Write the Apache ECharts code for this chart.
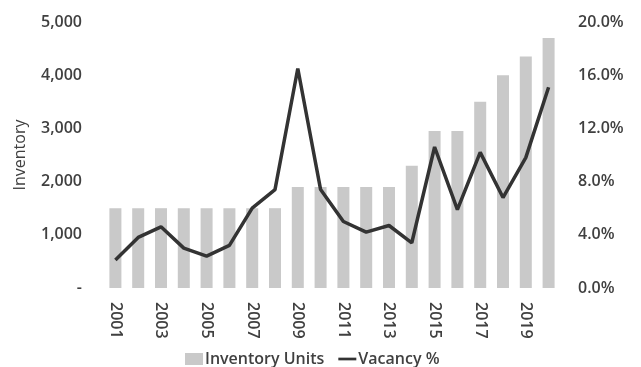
<!DOCTYPE html>
<html>
<head>
<meta charset="utf-8">
<script src="https://cdn.jsdelivr.net/npm/echarts@6/dist/echarts.min.js"></script>
<style>
  html, body { margin: 0; padding: 0; background: #fff; }
  #chart { width: 641px; height: 367px; }
</style>
</head>
<body>
<div id="chart"></div>
<script>
// Years on the category axis
const years = ['2001','2002','2003','2004','2005','2006','2007','2008','2009','2010',
               '2011','2012','2013','2014','2015','2016','2017','2018','2019','2020'];
// Inventory units per year
const inventory = [1500,1500,1500,1500,1500,1500,1500,1500,1900,1900,
                   1900,1900,1900,2300,2950,2950,3500,4000,4350,4700];
// Vacancy rate per year (%)
const vacancy = [2.1,3.8,4.6,3.0,2.4,3.2,6.0,7.4,16.5,7.4,
                 5.0,4.2,4.7,3.4,10.6,5.9,10.2,6.8,9.8,15.1];

const textColor = '#404040';
const font = '"Open Sans", "Noto Sans", sans-serif';

const chart = echarts.init(document.getElementById('chart'));
chart.setOption({
  animation: false,
  textStyle: { fontFamily: font, color: textColor },
  grid: { left: 104, right: 81, top: 22, bottom: 79 },
  legend: {
    top: 346,
    left: 180,
    itemGap: 14,
    itemWidth: 18,
    itemHeight: 12,
    textStyle: { fontFamily: font, fontSize: 16, color: textColor, fontWeight: 600, padding: [0, 0, 0, -3] },
    data: [
      { name: 'Inventory Units', icon: 'rect' },
      { name: 'Vacancy %', icon: 'path://M0,0H20V3H0Z', itemStyle: { color: '#333333' } }
    ]
  },
  xAxis: {
    type: 'category',
    data: years,
    axisLine: { show: false },
    axisTick: { show: false },
    axisLabel: {
      interval: 1,
      rotate: -90,
      margin: 14,
      fontSize: 16,
      fontWeight: 600,
      color: textColor,
      fontFamily: font
    }
  },
  yAxis: [
    {
      type: 'value',
      min: 0, max: 5000, interval: 1000,
      name: 'Inventory',
      nameLocation: 'middle',
      nameGap: 76,
      nameTextStyle: { fontSize: 16, color: textColor, fontFamily: font },
      splitLine: { show: false },
      axisLine: { show: false },
      axisTick: { show: false },
      axisLabel: {
        fontSize: 16,
        color: textColor,
        margin: 22,
        fontWeight: 600,
        formatter: v => v === 0 ? '-' : v.toLocaleString('en-US')
      }
    },
    {
      type: 'value',
      min: 0, max: 20, interval: 4,
      position: 'right',
      splitLine: { show: false },
      axisLine: { show: false },
      axisTick: { show: false },
      axisLabel: {
        fontSize: 16,
        color: textColor,
        margin: 18,
        fontWeight: 600,
        formatter: v => v.toFixed(1) + '%'
      }
    }
  ],
  series: [
    {
      name: 'Inventory Units',
      type: 'bar',
      data: inventory,
      barWidth: 12,
      itemStyle: { color: '#c9c9c9' }
    },
    {
      name: 'Vacancy %',
      type: 'line',
      yAxisIndex: 1,
      data: vacancy,
      symbol: 'none',
      lineStyle: { color: '#333333', width: 3.5 },
      itemStyle: { color: '#333333' }
    }
  ]
});
</script>
</body>
</html>
